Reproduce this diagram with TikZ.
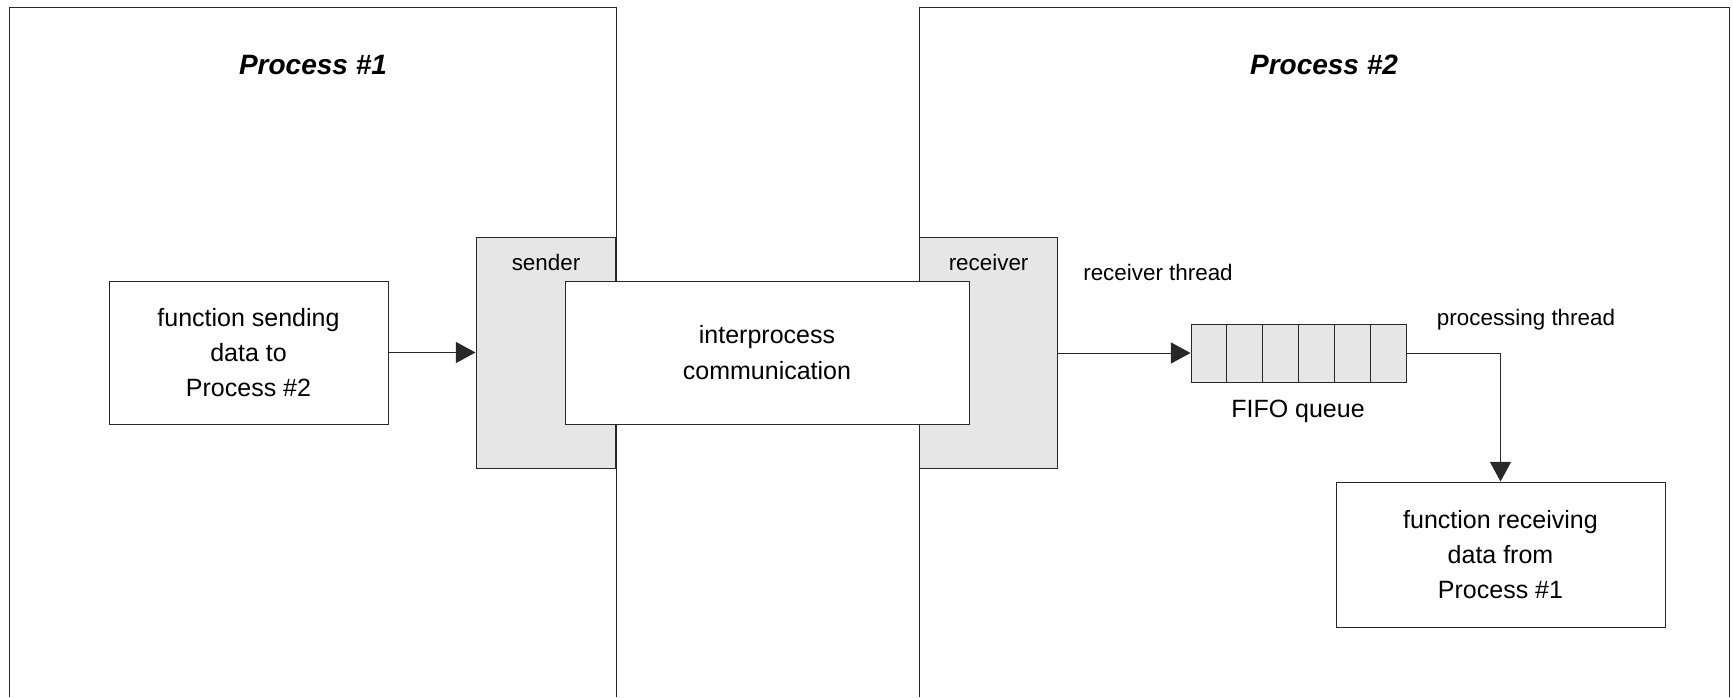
\documentclass[tikz,border=0pt]{standalone}
\usepackage{fontspec}
\setmainfont{Liberation Sans}
\usetikzlibrary{arrows.meta,calc}
\definecolor{boxgray}{RGB}{230,230,230}
\definecolor{linegray}{RGB}{40,40,40}
\begin{document}
\begin{tikzpicture}[x=0.5pt,y=-0.5pt,
  frame/.style={draw=linegray,line width=0.5pt},
  whitebox/.style={draw=linegray,line width=0.5pt,fill=white,inner sep=0pt,align=center,font=\fontsize{12.5}{17.6}\selectfont},
  graybox/.style={draw=linegray,line width=0.5pt,fill=boxgray,inner sep=0pt},
  lbl/.style={anchor=base,inner sep=0pt,font=\fontsize{11.2}{13}\selectfont},
  title/.style={anchor=base,inner sep=0pt,font=\fontsize{14}{17}\selectfont\bfseries\itshape},
  conn/.style={draw=linegray,line width=0.5pt},
  tip/.style={-{Triangle[length=9.8pt,width=10.5pt]}}]
\useasboundingbox (0,0) rectangle (1733,697);
\fill[white] (0,0) rectangle (1733,697);
% process frames (open at the bottom)
\draw[frame] (9,697) -- (9,7) -- (616,7) -- (616,697);
\draw[frame] (919.5,697) -- (919.5,7) -- (1729,7) -- (1729,697);
\node[title] (t1) at (313,74) {Process \#1};
\node[title] (t2) at (1324,74) {Process \#2};
% sender / receiver
\node[graybox,minimum width=69.5pt,minimum height=115.5pt] (sender) at (545.5,353) {};
\node[graybox,minimum width=69.1pt,minimum height=115.5pt] (receiver) at (988.6,353) {};
\node[lbl] (sl) at (546,270) {sender};
\node[lbl] (rl) at (988.6,270) {receiver};
% boxes
\node[whitebox,minimum width=139.5pt,minimum height=71.5pt] (fs) at (248.5,352.5) {function sending\\data to\\Process \#2};
\node[whitebox,minimum width=202pt,minimum height=71.5pt] (ipc) at (767,352.5) {interprocess\\communication};
\node[whitebox,minimum width=164.5pt,minimum height=72.5pt] (fr) at (1500.5,554.5) {function receiving\\data from\\Process \#1};
% FIFO
\node[graybox,minimum width=107.5pt,minimum height=29pt] (fifo) at (1298.5,353) {};
\foreach \k in {1,...,5}{
  \draw[conn] ($(fifo.north west)!\k/6!(fifo.north east)$) -- ($(fifo.south west)!\k/6!(fifo.south east)$);
}
\node[lbl,font=\fontsize{12.5}{15}\selectfont] (fl) at (1298,417) {FIFO queue};
\node[lbl] (rt) at (1158,280) {receiver thread};
\node[lbl] (pt) at (1526,325) {processing thread};
% connectors
\draw[conn,tip] (fs.east) -- (fs.east -| sender.west);
\draw[conn,tip] (receiver.east) -- (fifo.west);
\draw[conn,tip] (fifo.east) -- (fifo.east -| fr.north) -- (fr.north);
\end{tikzpicture}
\end{document}
